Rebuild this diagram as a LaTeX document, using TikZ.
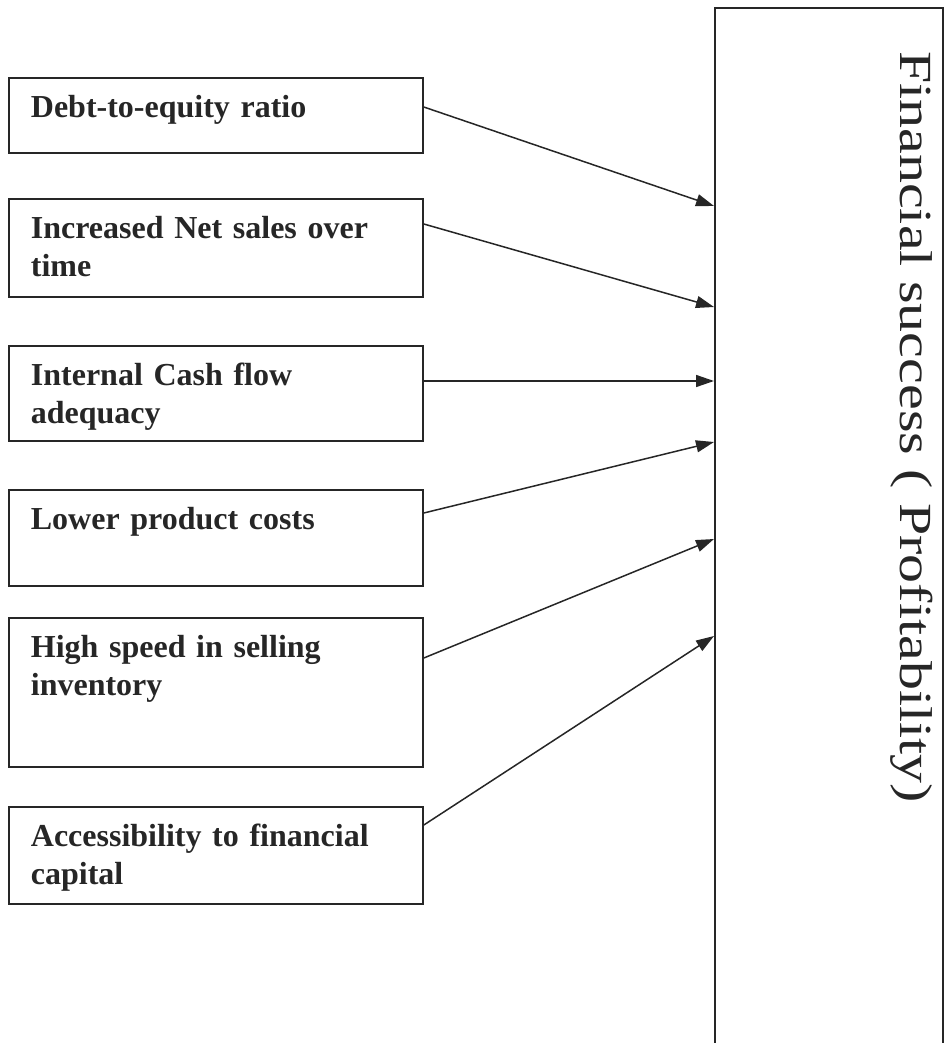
\documentclass[tikz,border=0pt]{standalone}
\usepackage{fontspec}
\setmainfont{Liberation Serif}
\usetikzlibrary{arrows.meta,positioning,calc}

\definecolor{ink}{gray}{0.15}

\tikzset{
    factor/.style={draw=ink, line width=1.8pt, anchor=north west, align=left,
        inner xsep=22pt, inner ysep=8pt, text width=370pt,
        text height=32pt, text depth=#1,
        font=\fontsize{32}{37.5}\selectfont\bfseries, text=ink},
    feed/.style={ink, line width=1.5pt, -{Triangle[length=18pt,width=12pt]}},
}

\begin{document}
\begin{tikzpicture}[x=1pt, y=-1pt]
        \useasboundingbox (0,0) rectangle (945,1043);
        \clip (0,0) rectangle (945,1043);
        % Factors
        \node [factor=27] (debt) at (8,77) {Debt-to-equity ratio};
        \node [factor=50] (sales) at (8,198) {Increased Net sales over\\time};
        \node [factor=47] (cash) at (8,345) {Internal Cash flow\\adequacy};
        \node [factor=48] (cost) at (8,489) {Lower product costs};
        \node [factor=101] (speed) at (8,617) {High speed in selling\\inventory};
        \node [factor=49] (capital) at (8,806) {Accessibility to financial\\capital};
        % Outcome
        \node [draw=ink, line width=1.8pt, anchor=north west,
            minimum width=228pt, minimum height=1100pt, inner sep=0pt] (fin) at (714,7) {};
        \node [rotate=-90, font=\fontsize{46}{52}\selectfont, text=ink, inner sep=0pt] (title)
            at (912,427) {\scalebox{1.26}[1]{Financial success ( Profitability)}};
        % Arrows
        \foreach \src/\dy/\ty in {debt/30/199, sales/26/300, cash/36/374,
                                  cost/24/435, speed/41/532, capital/19/629}
        {
        \draw [feed] ($(\src.north east)+(0,\dy)$) -- ($(fin.north west)+(0,\ty)$);
        }
\end{tikzpicture}
\end{document}
